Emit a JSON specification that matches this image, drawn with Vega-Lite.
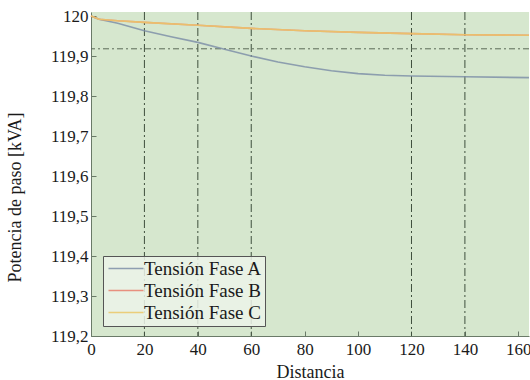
{
  "$schema": "https://vega.github.io/schema/vega-lite/v6.json",
  "width": 438,
  "height": 324,
  "autosize": {"type": "none"},
  "padding": {"left": 91, "top": 12, "right": 1, "bottom": 44},
  "background": "white",
  "config": {
    "view": {"fill": "#d6e7ce", "stroke": null},
    "font": "Liberation Serif",
    "style": {
      "guide-label": {"font": "Liberation Serif", "fill": "#1a1a1a"},
      "guide-title": {"font": "Liberation Serif", "fill": "#1a1a1a"}
    },
    "axis": {"grid": false, "labelFont": "Liberation Serif", "titleFont": "Liberation Serif", "labelColor": "#1a1a1a", "titleColor": "#1a1a1a", "labelFontSize": 17, "titleFontSize": 18, "titleFontWeight": "normal", "domainColor": "#6a7a68", "tickColor": "#6a7a68"},
    "legend": {"orient": "none", "legendX": 12, "legendY": 244, "fillColor": "rgba(236,243,233,0.85)", "strokeColor": "#555", "padding": 3, "symbolType": "M-1,0H4", "symbolSize": 196, "symbolStrokeWidth": 1.5, "labelFont": "Liberation Serif", "labelFontSize": 19, "labelColor": "#1a1a1a", "labelOffset": 19, "rowPadding": 2}
  },
  "datasets": {
    "curvas": [
      {"d": 0, "v": 120.0, "serie": "Tensión Fase A"},
      {"d": 3, "v": 119.992, "serie": "Tensión Fase A"},
      {"d": 10, "v": 119.982, "serie": "Tensión Fase A"},
      {"d": 20, "v": 119.963, "serie": "Tensión Fase A"},
      {"d": 30, "v": 119.948, "serie": "Tensión Fase A"},
      {"d": 40, "v": 119.934, "serie": "Tensión Fase A"},
      {"d": 50, "v": 119.917, "serie": "Tensión Fase A"},
      {"d": 60, "v": 119.9, "serie": "Tensión Fase A"},
      {"d": 70, "v": 119.885, "serie": "Tensión Fase A"},
      {"d": 80, "v": 119.873, "serie": "Tensión Fase A"},
      {"d": 90, "v": 119.863, "serie": "Tensión Fase A"},
      {"d": 100, "v": 119.856, "serie": "Tensión Fase A"},
      {"d": 110, "v": 119.852, "serie": "Tensión Fase A"},
      {"d": 120, "v": 119.85, "serie": "Tensión Fase A"},
      {"d": 140, "v": 119.848, "serie": "Tensión Fase A"},
      {"d": 164, "v": 119.846, "serie": "Tensión Fase A"},
      {"d": 0, "v": 120.0, "serie": "Tensión Fase B"},
      {"d": 3, "v": 119.992, "serie": "Tensión Fase B"},
      {"d": 10, "v": 119.988, "serie": "Tensión Fase B"},
      {"d": 20, "v": 119.984, "serie": "Tensión Fase B"},
      {"d": 40, "v": 119.977, "serie": "Tensión Fase B"},
      {"d": 60, "v": 119.969, "serie": "Tensión Fase B"},
      {"d": 80, "v": 119.963, "serie": "Tensión Fase B"},
      {"d": 100, "v": 119.959, "serie": "Tensión Fase B"},
      {"d": 120, "v": 119.956, "serie": "Tensión Fase B"},
      {"d": 140, "v": 119.953, "serie": "Tensión Fase B"},
      {"d": 164, "v": 119.952, "serie": "Tensión Fase B"},
      {"d": 0, "v": 120.0, "serie": "Tensión Fase C"},
      {"d": 3, "v": 119.992, "serie": "Tensión Fase C"},
      {"d": 10, "v": 119.988, "serie": "Tensión Fase C"},
      {"d": 20, "v": 119.984, "serie": "Tensión Fase C"},
      {"d": 40, "v": 119.977, "serie": "Tensión Fase C"},
      {"d": 60, "v": 119.969, "serie": "Tensión Fase C"},
      {"d": 80, "v": 119.963, "serie": "Tensión Fase C"},
      {"d": 100, "v": 119.959, "serie": "Tensión Fase C"},
      {"d": 120, "v": 119.956, "serie": "Tensión Fase C"},
      {"d": 140, "v": 119.953, "serie": "Tensión Fase C"},
      {"d": 164, "v": 119.952, "serie": "Tensión Fase C"}
    ],
    "rejilla": [{"d": 20}, {"d": 40}, {"d": 60}, {"d": 120}, {"d": 140}],
    "referencia": [{"v": 119.918}]
  },
  "layer": [
    {
      "data": {"name": "rejilla"},
      "mark": {"type": "rule", "color": "#3f4f3d", "strokeWidth": 1, "strokeDash": [8, 3, 2, 3]},
      "encoding": {
        "x": {"field": "d", "type": "quantitative", "scale": {"domain": [0, 164], "nice": false, "zero": false}}
      }
    },
    {
      "data": {"name": "referencia"},
      "mark": {"type": "rule", "color": "#5a6a58", "strokeWidth": 1, "strokeDash": [6, 3, 2, 3]},
      "encoding": {
        "y": {"field": "v", "type": "quantitative", "scale": {"domain": [119.2, 120.01], "nice": false, "zero": false}}
      }
    },
    {
      "data": {"name": "curvas"},
      "mark": {"type": "line", "strokeWidth": 1.6, "opacity": 0.85},
      "encoding": {
        "x": {
          "field": "d", "type": "quantitative",
          "scale": {"domain": [0, 164], "nice": false, "zero": false},
          "axis": {"title": "Distancia", "values": [0, 20, 40, 60, 80, 100, 120, 140, 160], "tickSize": -5, "labelPadding": 10, "titlePadding": 6, "labelFlush": false}
        },
        "y": {
          "field": "v", "type": "quantitative",
          "scale": {"domain": [119.2, 120.01], "nice": false, "zero": false},
          "axis": {"title": "Potencia de paso [kVA]", "values": [119.2, 119.3, 119.4, 119.5, 119.6, 119.7, 119.8, 119.9, 120], "labelExpr": "datum.value >= 119.999 ? '120' : replace(format(datum.value, '.1f'), '.', ',')", "tickSize": -5, "labelPadding": 8, "titlePadding": 26, "titleY": 185}
        },
        "color": {
          "field": "serie", "type": "nominal",
          "scale": {"domain": ["Tensión Fase A", "Tensión Fase B", "Tensión Fase C"], "range": ["#7f90a8", "#e8806e", "#ecc868"]},
          "legend": {"title": null}
        }
      }
    }
  ]
}
